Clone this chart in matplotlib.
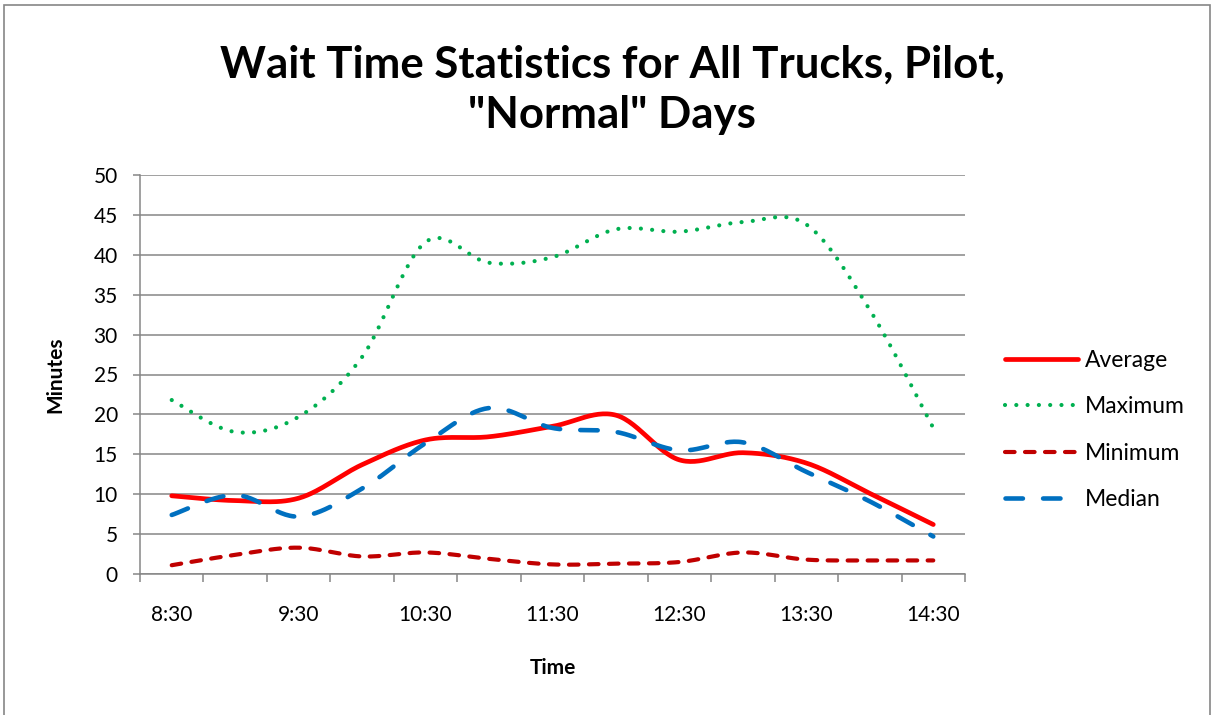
import numpy as np
import matplotlib
matplotlib.use("Agg")
from matplotlib import pyplot as plt
from matplotlib.patches import Rectangle

# half-hour slots, labelled every hour
times = ["8:30", "9:00", "9:30", "10:00", "10:30", "11:00", "11:30",
         "12:00", "12:30", "13:00", "13:30", "14:00", "14:30"]
average = [9.8, 9.2, 9.5, 13.7, 16.8, 17.2, 18.5, 19.9, 14.3, 15.2, 13.9, 10.1, 6.2]
maximum = [21.8, 17.8, 19.7, 27.2, 41.6, 39.0, 39.7, 43.2, 42.9, 44.1, 43.8, 33.1, 18.3]
minimum = [1.1, 2.4, 3.3, 2.2, 2.7, 1.9, 1.2, 1.3, 1.5, 2.7, 1.8, 1.7, 1.7]
median = [7.4, 9.9, 7.2, 10.7, 16.4, 20.8, 18.3, 17.8, 15.5, 16.5, 12.8, 9.1, 4.7]


def smooth(y, n=30):
    # Excel style smoothed line (Catmull-Rom through the points)
    y = np.asarray(y, float)
    x = np.arange(len(y), dtype=float)
    p = np.column_stack([x, y])
    p = np.vstack([p[0], p, p[-1]])
    out = []
    t = np.linspace(0, 1, n)[:, None]
    for i in range(1, len(p) - 2):
        p0, p1, p2, p3 = p[i - 1], p[i], p[i + 1], p[i + 2]
        c1 = p1 + (p2 - p0) / 6
        c2 = p2 - (p3 - p1) / 6
        seg = ((1 - t) ** 3) * p1 + 3 * ((1 - t) ** 2) * t * c1 + 3 * (1 - t) * t ** 2 * c2 + t ** 3 * p2
        out.append(seg if i == 1 else seg[1:])
    out = np.vstack(out)
    return out[:, 0], out[:, 1]


plt.rcParams['font.family'] = ['Lato', 'DejaVu Sans']
grey = '#868686'

fig = plt.figure(figsize=(12.17, 7.15), dpi=100)
fig.patches.append(Rectangle((4 / 1217, -0.1), 1206 / 1217, 1 - 5 / 715 + 0.1,
                             transform=fig.transFigure, fill=False, ec=grey, lw=1.2))
ax = fig.add_axes([140 / 1217, 1 - 574 / 715, 825 / 1217, 399 / 715])

x, y = smooth(average)
ax.plot(x, y, color='#FF0000', lw=3.4, solid_capstyle='round', label='Average')
x, y = smooth(maximum)
ax.plot(x, y, color='#00B050', lw=3.0, linestyle=(0, (0.01, 2.7)), dash_capstyle='round', label='Maximum')
x, y = smooth(minimum)
ax.plot(x, y, color='#C00000', lw=3.0, linestyle=(0, (2.3, 2.5)), dash_capstyle='round', label='Minimum')
x, y = smooth(median)
ax.plot(x, y, color='#0070C0', lw=3.3, linestyle=(0, (3.8, 4.4)), dash_capstyle='round', label='Median')

ax.set_xlim(-0.5, len(times) - 0.5)
ax.set_ylim(0, 50)
ax.set_yticks(range(0, 51, 5))
ax.yaxis.grid(True, color=grey, lw=1.1)
ax.set_axisbelow(True)
ax.set_xticks(np.arange(-0.5, len(times), 1))
ax.set_xticklabels([])
ax.set_xticks(np.arange(0, len(times), 2), minor=True)
ax.set_xticklabels(times[::2], minor=True)
ax.tick_params(axis='x', which='major', length=5.5, width=1.1, color=grey)
ax.tick_params(axis='x', which='minor', length=0, pad=22, labelsize=15)
ax.tick_params(axis='y', length=5, width=1.1, color=grey, labelsize=15, pad=11)
for s in ['top', 'right']:
    ax.spines[s].set_visible(False)
for s in ['left', 'bottom']:
    ax.spines[s].set_color(grey)
    ax.spines[s].set_linewidth(1.1)

ax.set_xlabel('Time', fontsize=15, fontweight='bold', labelpad=24)
ax.set_ylabel('Minutes', fontsize=15, fontweight='bold', labelpad=20)
fig.text(612 / 1217, 1 - 90 / 715, 'Wait Time Statistics for All Trucks, Pilot,\n"Normal" Days',
         ha='center', va='center', fontsize=31.5, fontweight='bold', linespacing=1.32)

ax.legend(loc='center left', bbox_to_anchor=(1.0485, 0.361), frameon=False, fontsize=16.5,
          handlelength=3.2, handletextpad=0.3, labelspacing=1.1, borderaxespad=0, borderpad=0)

plt.savefig('out.png', dpi=100)
